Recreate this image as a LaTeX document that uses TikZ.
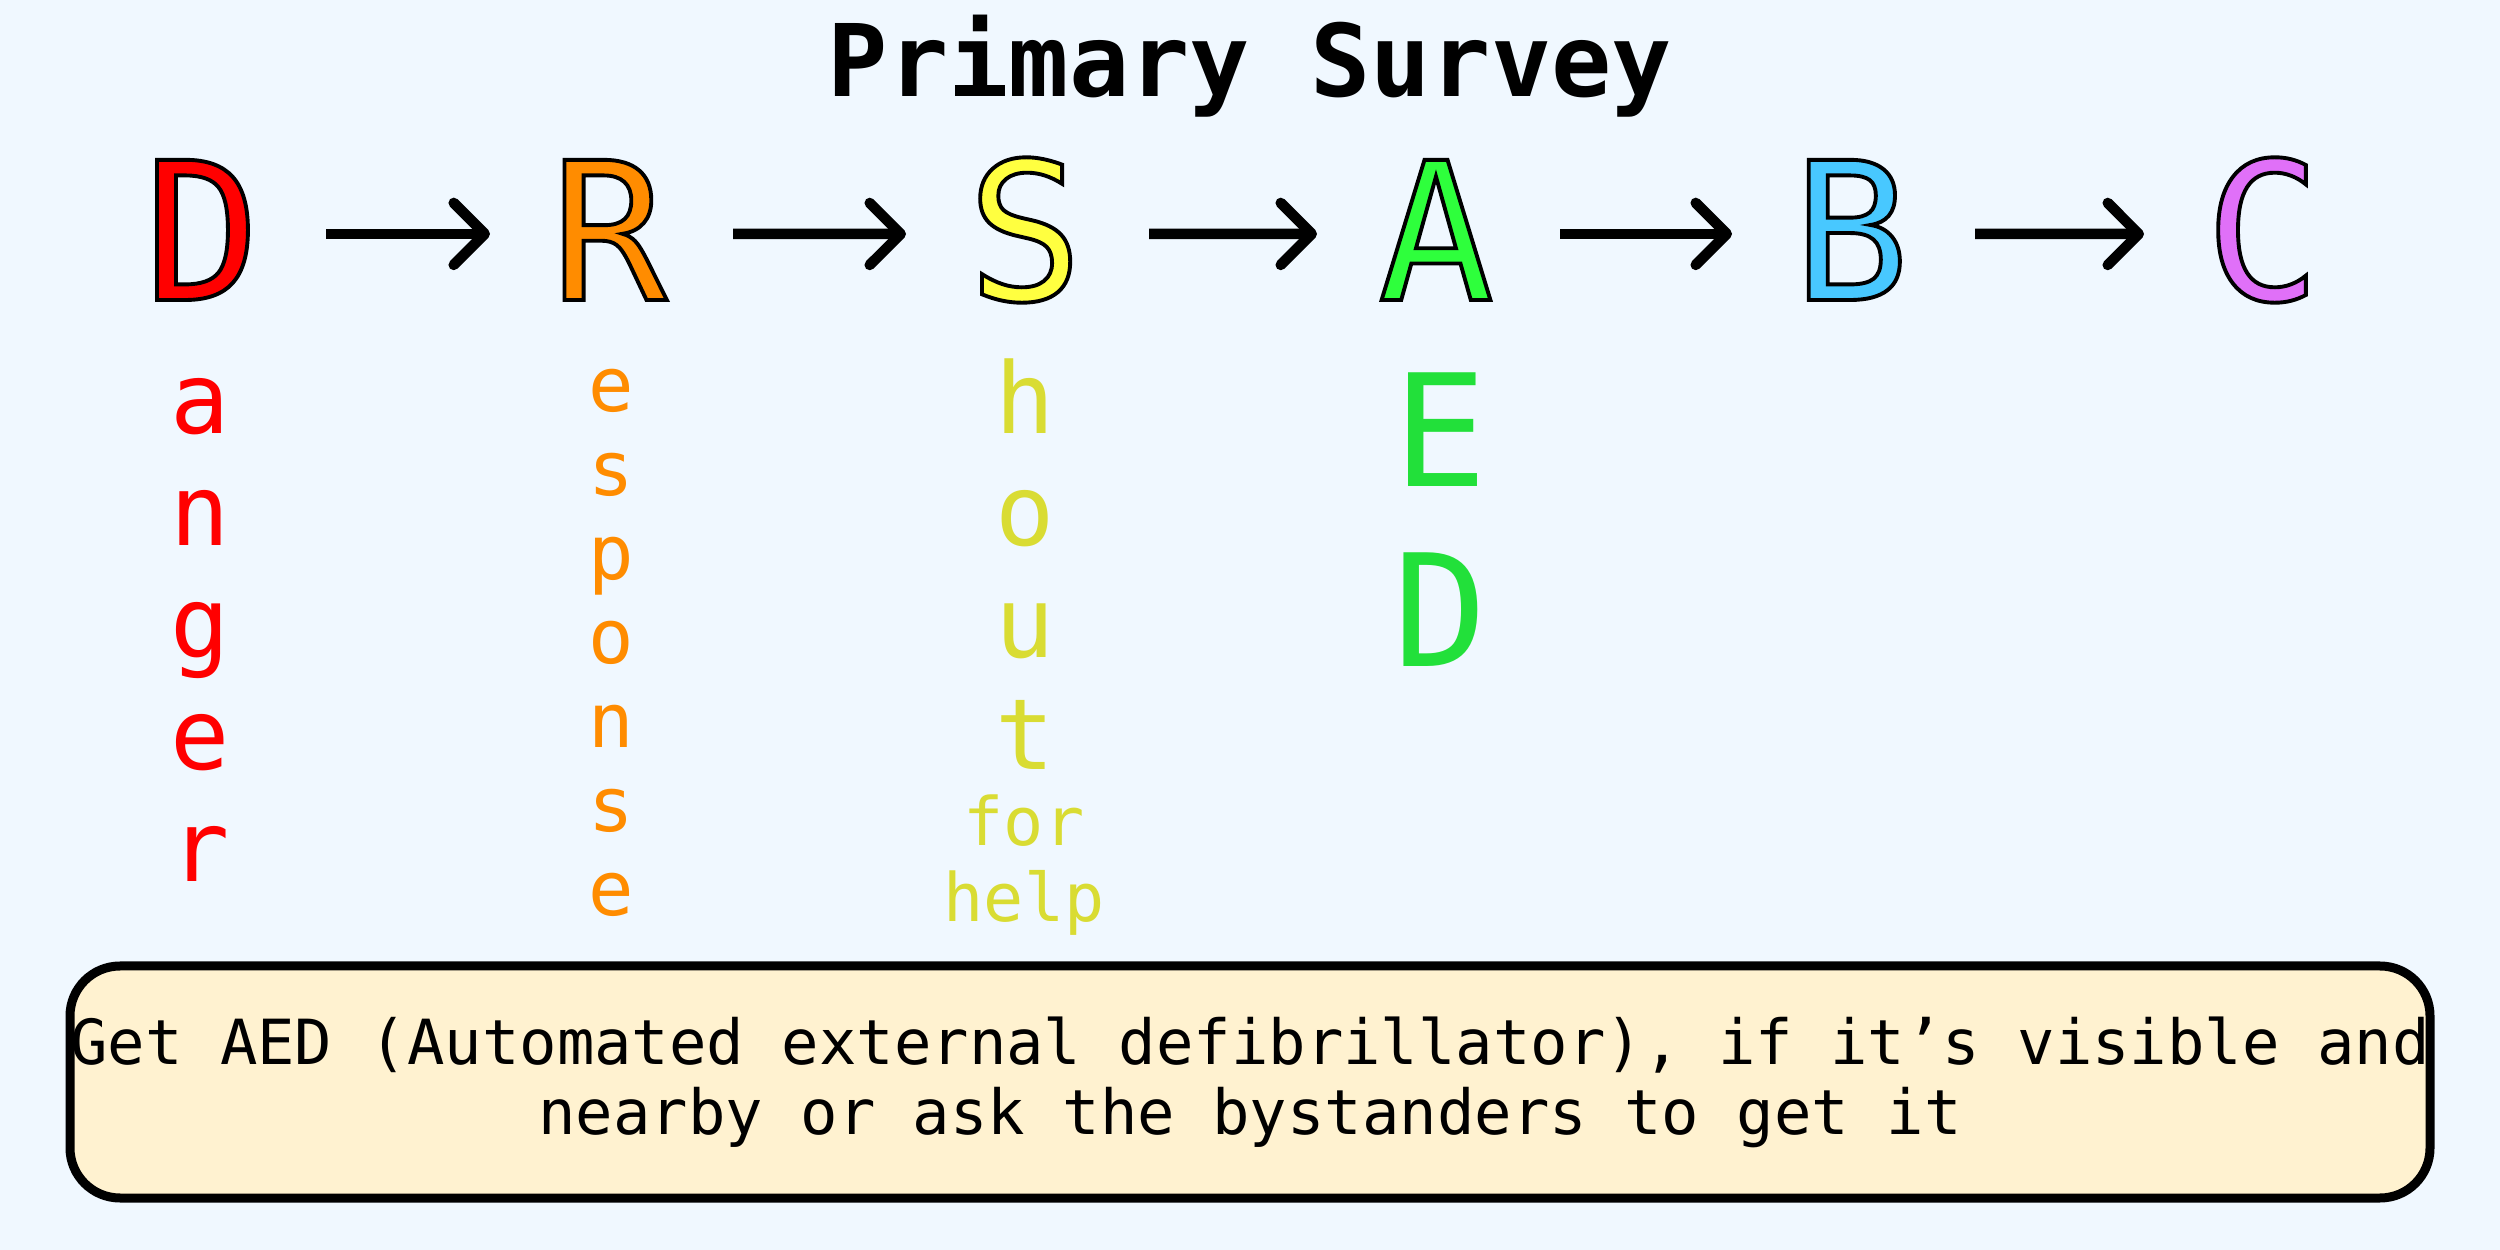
\documentclass[tikz,border=0pt]{standalone}
\usepackage{fontspec}
\setmonofont{DejaVu Sans Mono}
\usepackage{xcolor}
\usepackage{tikz}
\usetikzlibrary{arrows.meta,positioning}
\definecolor{pagebg}{RGB}{240,248,255}
\definecolor{notefill}{RGB}{255,242,208}
\definecolor{drsred}{RGB}{255,0,0}
\definecolor{drsorange}{RGB}{255,140,0}
\definecolor{drsyellow}{RGB}{255,255,64}
\definecolor{shoutyellow}{RGB}{217,220,51}
\definecolor{drsgreen}{RGB}{46,255,60}
\definecolor{aedgreen}{RGB}{34,224,58}
\definecolor{drsblue}{RGB}{72,200,255}
\definecolor{drsviolet}{RGB}{224,112,248}

% filled glyph with a black rim (text render mode 2)
\newcommand\rimmed[1]{\special{pdf:literal direct 0 G 1.1 w 2 Tr}#1\special{pdf:literal direct 0 Tr}}

\tikzset{
  bigletter/.style={font=\ttfamily\fontsize{54.7}{55}\selectfont, inner sep=0pt, anchor=base},
  thenarrow/.style={line width=3pt, -{Straight Barb[length=0.31cm, width=0.62cm, round]},
    shorten <=1.24cm, shorten >=1.19cm},
  sidetext/.style={font=\ttfamily\fontsize{28}{28}\selectfont, inner sep=0pt, anchor=base},
  smallside/.style={font=\ttfamily\fontsize{21.5}{22}\selectfont, inner sep=0pt, anchor=base},
  tinyside/.style={font=\ttfamily\fontsize{19}{19}\selectfont, inner sep=0pt, anchor=base},
  aedbox/.style={draw=black, line width=0.09cm, fill=notefill, rounded corners=0.5cm,
    minimum width=23.6cm, minimum height=2.32cm, text width=23.6cm, inner sep=0pt,
    align=flush center, font=\ttfamily\fontsize{17.7}{19.9}\selectfont}
}

\begin{document}
\begin{tikzpicture}
    \fill[pagebg] (0,0) rectangle (25,12.5);
    \useasboundingbox (0,0) rectangle (25,12.5);

    \node[font=\ttfamily\bfseries\fontsize{28.5}{30}\selectfont, anchor=base] (title) at (12.5,11.53) {Primary Survey};

    % Outlined step letters
    \foreach \ltr/\name/\x/\col in {D/danger/2.02/drsred, R/response/6.09/drsorange,
        S/shout/10.25/drsyellow, A/airway/14.36/drsgreen, B/breathing/18.51/drsblue,
        C/circulation/22.63/drsviolet}
        \node[bigletter, text=\col] (\name) at (\x,9.50) {\rimmed{\ltr}};

    \foreach \a/\b in {danger/response, response/shout, shout/airway, airway/breathing, breathing/circulation}
        \draw[thenarrow] ([yshift=-0.04cm]\a.center) -- ([yshift=-0.04cm]\b.center);

    % Spelled-out words
    \foreach \ch [count=\i from 0] in {a,n,g,e,r}
        \node[sidetext, text=drsred] (anger-\i) at (2.00, 8.16-1.12*\i) {\ch};
    \foreach \ch [count=\i from 0] in {e,s,p,o,n,s,e}
        \node[smallside, text=drsorange] (esponse-\i) at (6.11, 8.38-0.84*\i) {\ch};
    \foreach \ch [count=\i from 0] in {h,o,u,t}
        \node[sidetext, text=shoutyellow] (hout-\i) at (10.25, 8.16-1.12*\i) {\ch};
    \node[tinyside, text=shoutyellow] (hout-for) at (10.24,4.04) {for};
    \node[tinyside, text=shoutyellow] (hout-help) at (10.24,3.28) {help};

    \node[font=\ttfamily\fontsize{44.4}{45}\selectfont, text=aedgreen, anchor=base, inner sep=0pt] (aed-e) at (14.40,7.63) {E};
    \node[font=\ttfamily\fontsize{44.4}{45}\selectfont, text=aedgreen, anchor=base, inner sep=0pt] (aed-d) at (14.40,5.83) {D};

    % Note box
    \node[aedbox] (aed-note) at (12.5,1.68) {Get AED (Automated external defibrillator), if it’s visible and\\nearby or ask the bystanders to get it};
\end{tikzpicture}
\end{document}
